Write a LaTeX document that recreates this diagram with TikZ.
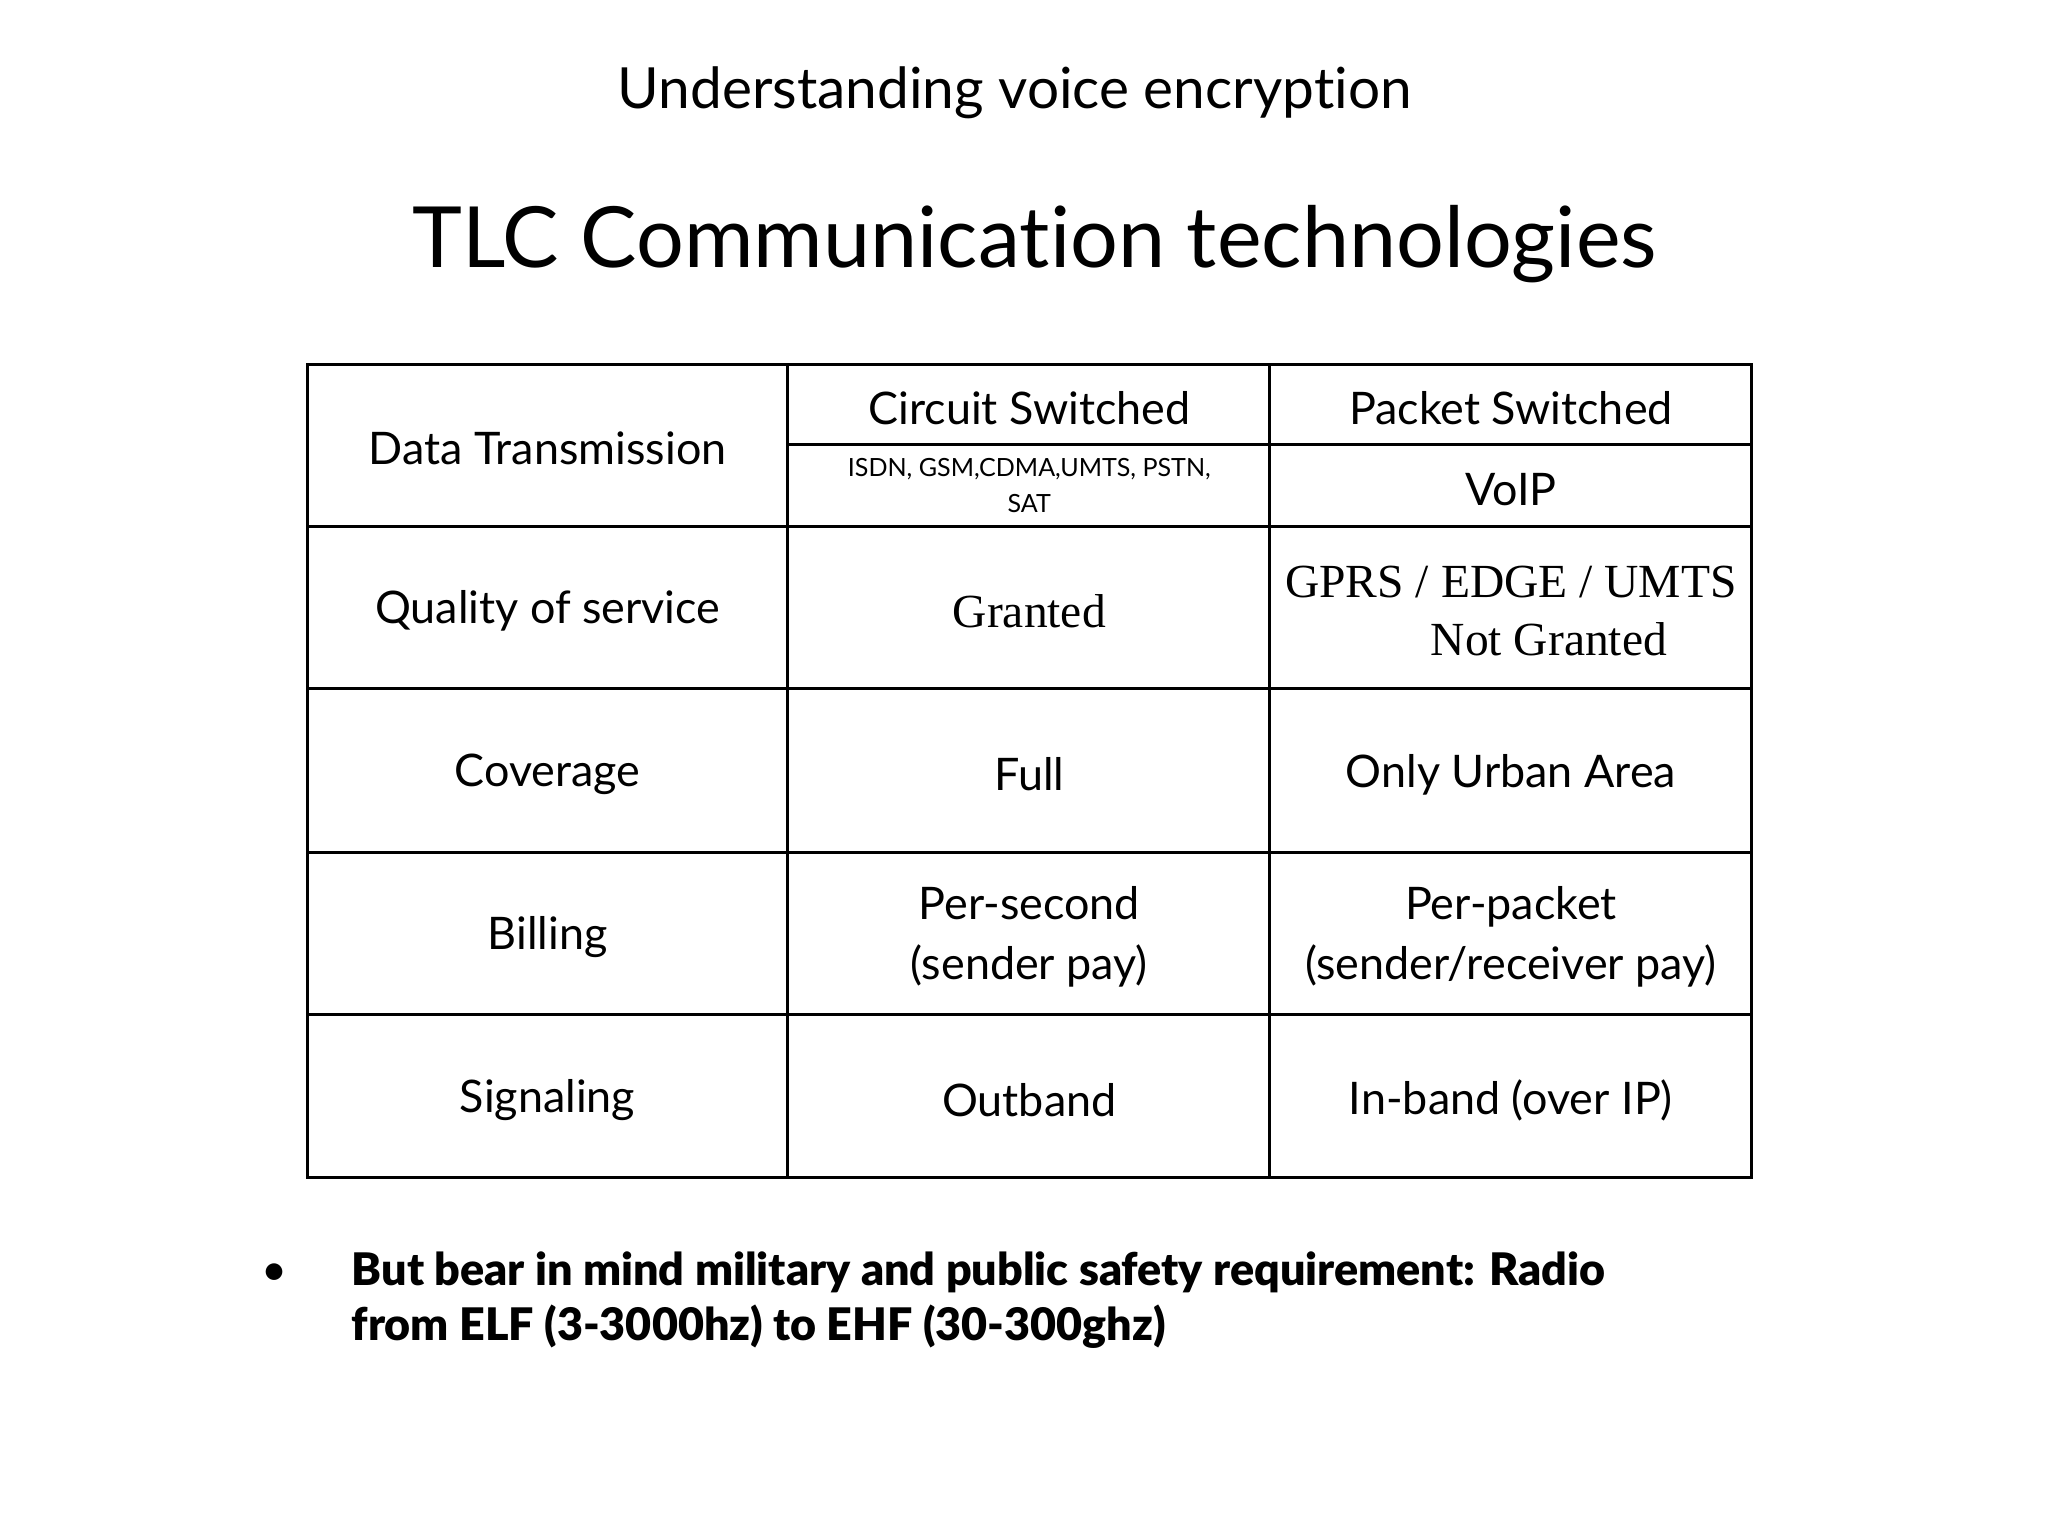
\documentclass[tikz,border=0pt]{standalone}
\usepackage{fontspec}
\setmainfont[Ligatures=NoCommon]{Lato}
\newfontfamily\serifx{Liberation Serif}
\newfontfamily\heavyx[Ligatures=NoCommon]{Lato Black}
\begin{document}
\begin{tikzpicture}[x=1pt,y=-1pt,
  grid/.style={line width=2.2pt},
  cell/.style={font=\fontsize{34}{40}\selectfont, align=center}]
\useasboundingbox (0,0) rectangle (1552,1164);
\node[font=\fontsize{43}{50}\selectfont] (sub) at (769,70) {Understanding voice encryption};
\node[font=\fontsize{64}{72}\selectfont] (title) at (784,185) {TLC Communication technologies};
\draw[grid] (233,276) rectangle (1327,892);
\foreach \x in {597,962} \draw[grid] (\x,276) -- (\x,892);
\foreach \y in {399,522,646,769} \draw[grid] (233,\y) -- (1327,\y);
\draw[grid] (597,337) -- (1327,337);
\node[cell] (h0) at (415,340) {Data Transmission};
\node[cell] (h1) at (780,309) {Circuit Switched};
\node[cell] (h2) at (1145,309) {Packet Switched};
\node[font=\fontsize{19}{27}\selectfont, align=center] (h3) at (780,368) {ISDN, GSM,CDMA,UMTS, PSTN,\\SAT};
\node[cell] (h4) at (1145,371) {VoIP};
\node[cell] (r1) at (415,463) {Quality of service};
\node[cell,font=\serifx\fontsize{36}{40}\selectfont] (r1a) at (780,463) {Granted};
\node[cell,font=\serifx\fontsize{36}{44}\selectfont] (r1b) at (1145,463) {GPRS / EDGE / UMTS\\\hspace*{1.6em}Not Granted};
\node[cell] (r2) at (415,587) {Coverage};
\node[cell] (r2a) at (780,587) {Full};
\node[cell] (r2b) at (1145,587) {Only Urban Area};
\node[cell] (r3) at (415,710) {Billing};
\node[cell,font=\fontsize{34}{46}\selectfont] (r3a) at (780,710) {Per-second\\(sender pay)};
\node[cell,font=\fontsize{34}{46}\selectfont] (r3b) at (1145,710) {Per-packet\\(sender/receiver pay)};
\node[cell] (r4) at (415,834) {Signaling};
\node[cell] (r4a) at (780,834) {Outband};
\node[cell] (r4b) at (1145,834) {In-band (over IP)};
\node[font=\fontsize{34}{40}\selectfont] (bul) at (208,966) {•};
\node[anchor=north west, align=left, font=\heavyx\fontsize{34}{42}\selectfont] (txt) at (263,945)
  {But bear in mind military and public safety requirement: Radio\\from ELF (3-3000hz) to EHF (30-300ghz)};
\end{tikzpicture}
\end{document}
